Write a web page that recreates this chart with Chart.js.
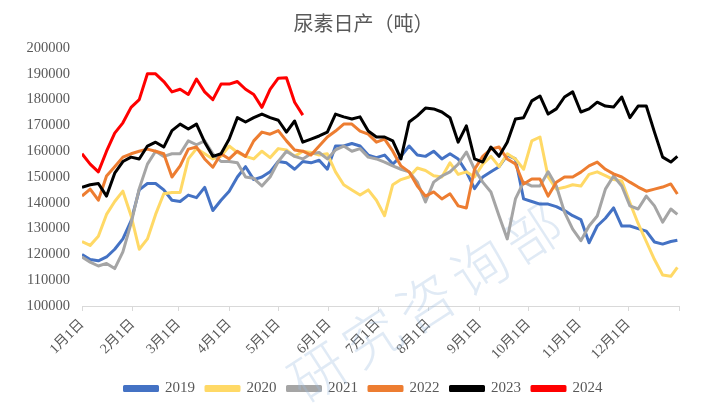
<!DOCTYPE html>
<html>
<head>
<meta charset="utf-8">
<script src="https://cdn.jsdelivr.net/npm/chart.js@4.4.1/dist/chart.umd.min.js"></script>
<style>
html,body{margin:0;padding:0;background:#fff;}
#wrap{width:704px;height:403px;}
</style>
</head>
<body>
<div id="wrap"><canvas id="c" width="704" height="403"></canvas></div>
<script>
const chartTitle = '尿素日产（吨）';
const seriesNames = ['2019', '2020', '2021', '2022', '2023', '2024'];
const monthLabels = ['1月1日','2月1日','3月1日','4月1日','5月1日','6月1日','7月1日','8月1日','9月1日','10月1日','11月1日','12月1日',''];
const monthStartDays = [0,31,59,90,120,151,181,212,243,273,304,334,365];
const yTickValues = [100000,110000,120000,130000,140000,150000,160000,170000,180000,190000,200000];
const watermarkChars = ['研','究','咨','询','部'];

// day of year for each sampled value
const sampleDays = [0,5,10,15,20,25,30,35,40,45,50,55,60,65,70,75,80,85,90,95,
  100,105,110,115,120,125,130,135,140,145,150,155,160,165,170,175,180,185,190,195,
  200,205,210,215,220,225,230,235,240,245,250,255,260,265,270,275,280,285,290,295,
  300,305,310,315,320,325,330,335,340,345,350,355,360,364];

const v2019 = [
  120000,118000,117500,119000,122000,126000,133000,145000,147500,147500,
  145000,141000,140500,143000,142000,146000,137000,141000,144500,150000,
  154000,149000,150000,152000,156000,155500,153000,156000,155500,156500,
  153000,162000,162000,163000,162000,158500,157500,158500,155000,158000,
  162000,158500,158000,160000,157000,159000,157000,152000,145500,150000,
  152000,154000,158500,157000,141500,140500,139500,139500,138500,137000,
  135000,133500,124500,131000,134000,138000,131000,131000,130000,129000,
  124800,124000,125000,125500];
const v2020 = [
  125000,123500,127000,135500,140500,144500,135000,122000,126000,135500,
  143500,144000,144000,157000,161000,159000,157000,158000,162000,159500,
  158000,157000,160000,157500,161000,160500,158000,160000,159500,158500,
  159000,152000,147000,145000,143000,145000,141000,135000,147000,149000,
  150000,153500,152500,150500,150000,155500,151000,152000,150000,155000,
  158000,154000,159000,157000,153000,164000,165500,150000,145300,146000,
  147000,146500,151000,152000,150500,149000,148500,140000,132000,125000,
  118000,112000,111500,115000];
const v2021 = [
  119000,117000,115500,116500,114500,121000,132000,145500,155000,160000,
  158000,159000,159000,164000,162500,164000,159000,156000,156000,155500,
  150000,149500,146500,150000,156000,160000,158000,157000,159000,159500,
  157000,160500,162000,160000,161000,157700,157000,155800,154300,153000,
  152000,148000,140300,148000,150400,152000,155000,159700,153000,148000,
  144200,134900,126000,141500,148000,146500,146500,152000,146500,136400,
  129800,125300,131000,134900,145300,150400,146500,138800,137600,142600,
  138800,132500,137600,135500];
const v2022 = [
  142600,145300,141000,150400,154000,157700,159000,160000,160800,160000,
  159000,150000,154300,160800,161600,157000,153800,159000,157000,160000,
  158000,164000,167400,166600,168000,164000,160500,160000,158500,162000,
  165500,167800,170500,170500,167800,166600,163500,164700,160000,154300,
  152000,146500,142600,144200,141500,143500,138800,138000,153000,158000,
  160800,161600,157000,155000,147300,149200,149200,142600,148000,150000,
  150000,151900,154300,155800,153000,151200,150000,148000,146100,144500,
  145300,146100,147300,143400];
const v2023 = [
  146000,147000,147500,142600,151500,156000,157700,157000,162000,163500,
  161600,168000,170500,168600,170500,163500,158000,159000,164700,173000,
  171300,173000,174400,173000,172000,167400,171700,163500,164700,165900,
  167400,174400,173300,172500,173300,167800,165500,165500,164000,157000,
  171300,173700,176700,176400,175200,173000,163500,169800,157000,155800,
  161600,158000,163500,172500,173000,179500,181400,174400,176400,181000,
  183000,175200,176400,179000,177500,177100,181000,173000,177500,177500,
  167400,157700,155800,158000];
const v2024 = [
  159000,155000,152000,160000,167000,171000,177000,180000,190000,190000,
  187000,183000,184000,182000,188000,183000,180000,186000,186000,187000,
  184000,182000,177000,184000,188300,188500,179000,174000];

const seriesValues = [v2019, v2020, v2021, v2022, v2023, v2024];
const seriesColors = ['#4472C4', '#FFD966', '#A5A5A5', '#ED7D31', '#000000', '#FF0000'];

const datasets = seriesNames.map((name, i) => ({
  label: name,
  data: seriesValues[i].map((v, k) => ({ x: sampleDays[k], y: v })),
  borderColor: seriesColors[i],
  backgroundColor: seriesColors[i],
  borderWidth: 3,
  pointRadius: 0,
  tension: 0,
  borderJoinStyle: 'round',
  order: seriesNames.length - 1 - i
}));

const watermarkPlugin = {
  id: 'watermark',
  afterLayout(chart) {
    // let the y-axis labels use the space left of the axis box
    chart.scales.y.left = 0;
  },
  beforeDatasetsDraw(chart) {
    const ctx = chart.ctx;
    ctx.save();
    ctx.fillStyle = 'rgba(160,190,225,0.32)';
    ctx.font = '300 56px "Noto Sans CJK SC"';
    ctx.textAlign = 'center';
    ctx.textBaseline = 'middle';
    const x0 = 318, y0 = 372, step = 64, ang = -33 * Math.PI / 180;
    watermarkChars.forEach((ch, i) => {
      ctx.save();
      ctx.translate(x0 + i * step * Math.cos(ang), y0 + i * step * Math.sin(ang));
      ctx.rotate(ang);
      ctx.fillText(ch, 0, 0);
      ctx.restore();
    });
    ctx.restore();
  }
};

new Chart(document.getElementById('c'), {
  type: 'line',
  data: { datasets },
  plugins: [watermarkPlugin],
  options: {
    responsive: false,
    animation: false,
    devicePixelRatio: 1,
    layout: { padding: { left: 48, right: 25, top: 0, bottom: -3 } },
    plugins: {
      title: {
        display: true,
        text: chartTitle,
        color: '#595959',
        font: { family: "'Noto Sans CJK SC'", size: 20, weight: 'normal' },
        padding: { top: 11, bottom: 13 }
      },
      legend: {
        position: 'bottom',
        labels: {
          boxWidth: 33,
          boxHeight: 4,
          color: '#595959',
          font: { family: "'Liberation Serif'", size: 15 },
          padding: 11,
          sort: (a, b) => a.datasetIndex - b.datasetIndex
        }
      },
      tooltip: { enabled: false }
    },
    scales: {
      x: {
        type: 'linear',
        min: 0,
        max: 365,
        afterBuildTicks: (s) => { s.ticks = monthStartDays.map(v => ({ value: v })); },
        afterFit: (s) => { s.height = 64; },
        ticks: {
          autoSkip: false,
          maxRotation: 45,
          minRotation: 45,
          padding: 5,
          color: '#595959',
          font: { family: "'Liberation Serif', 'Noto Sans CJK SC'", size: 14 },
          callback: (v) => monthLabels[monthStartDays.indexOf(v)]
        },
        grid: { drawOnChartArea: false, color: '#d9d9d9', tickLength: 5 },
        border: { color: '#d9d9d9' }
      },
      y: {
        min: 100000,
        max: 200000,
        afterBuildTicks: (s) => { s.ticks = yTickValues.map(v => ({ value: v })); },
        afterFit: (s) => { s.width = 34; },
        ticks: {
          color: '#595959',
          font: { family: "'Liberation Serif'", size: 14.5 },
          padding: 12,
          callback: (v) => String(v)
        },
        grid: { display: false, drawTicks: false },
        border: { display: false }
      }
    }
  }
});
</script>
</body>
</html>
